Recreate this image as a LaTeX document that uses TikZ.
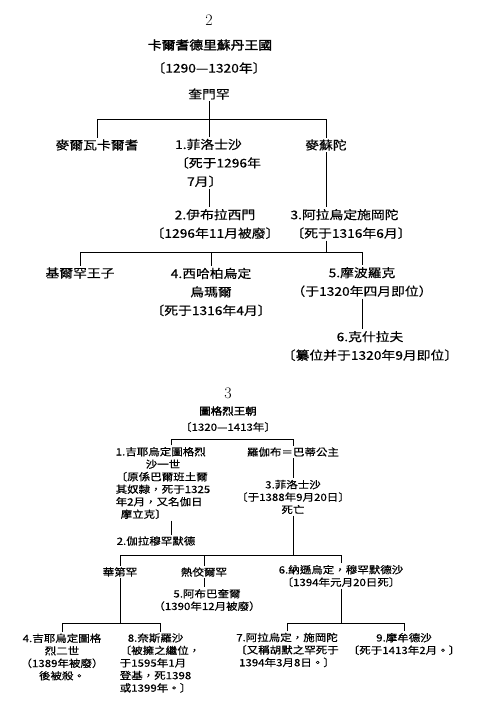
\documentclass[tikz,border=0pt]{standalone}
\usepackage{fontspec}
\newfontfamily\cjk[FakeStretch=1.15,FakeBold=0.4]{Noto Sans CJK TC}
\newfontfamily\cjkhead[FakeStretch=1.15,FakeBold=2]{Noto Sans CJK TC}
\usetikzlibrary{calc}

\tikzset{
  tree/.style={line width=0.7pt},
  num/.style={font=\fontsize{16}{16}\selectfont, inner sep=1pt},
  headA/.style={font=\cjkhead\fontsize{12}{14}\selectfont, inner sep=1pt},
  headB/.style={font=\cjkhead\fontsize{10}{12}\selectfont, inner sep=1pt},
  kinA/.style={font=\cjk\fontsize{12}{18.5}\selectfont, align=center, inner sep=1.5pt},
  kinB/.style={font=\cjk\fontsize{10}{12.5}\selectfont, align=center, inner sep=1.5pt},
}

\begin{document}
\begin{tikzpicture}[x=1pt, y=-1pt]
\useasboundingbox (0,0) rectangle (490,716);

% --- 2: Khalji ---
\node[num] (n2) at (209,20) {2};
\node[headA] (t2) at (210,45) {卡爾耆德里蘇丹王國};
\node[kinA] (y2) at (209,68) {〔1290—1320年〕};
\node[kinA] (r2) at (209,94) {奎門罕};
\coordinate (b2) at (209,119);

\node[kinA] (mk) at (97,145) {麥爾瓦卡爾耆};
\node[kinA, align=left] (f1) at (218,163) {1.菲洛士沙\\〔死于1296年\\\hspace*{1em}7月〕};
\node[kinA] (ms) at (326,145) {麥蘇陀};
\node[kinA] (ib) at (215,224) {2.伊布拉西門\\〔1296年11月被廢〕};
\node[kinA, align=left] (al) at (351,224) {3.阿拉烏定施岡陀\\〔死于1316年6月〕};
\coordinate (b3) at (326,252);

\node[kinA] (kh) at (80,273) {基爾罕王子};
\node[kinA] (sh) at (211,292) {4.西哈柏烏定\\烏瑪爾\\〔死于1316年4月〕};
\node[kinA] (mb) at (362,282) {5.摩波羅克\\（于1320年四月即位）};
\node[kinA] (ks) at (370,346) {6.克什拉夫\\〔纂位并于1320年9月即位〕};

\draw[tree] (r2.south) -- (b2);
\draw[tree] (mk.north) -- (mk.north |- b2) -| (ms.north);
\draw[tree] (f1.north -| b2) -- (b2);
\draw[tree] (f1.south -| b2) -- (ib.north -| b2);
\draw[tree] (ms.south) -- (ms.south |- al.north);
\draw[tree] (al.south -| b3) -- (b3);
\draw[tree] (kh.north) -- (kh.north |- b3) -| (mb.north);
\draw[tree] (sh.north) -- (sh.north |- b3);
\draw[tree] (mb.south) -- (mb.south |- ks.north);

% --- 3: Tughluq ---
\node[num] (n3) at (228,393) {3};
\node[headB] (t3) at (228,411) {圖格烈王朝};
\node[kinB] (y3) at (228,427) {〔1320—1413年〕};
\coordinate (b4) at (171,439);

\node[kinB, align=left] (gt) at (163,483) {1.吉耶烏定圖格烈\\\hspace*{3em}沙一世\\〔原係巴爾班土爾\\其奴隸，死于1325\\年2月，又名伽日\\\hspace*{0.5em}摩立克〕};
\node[kinB] (rj) at (293,452) {羅伽布＝巴蒂公主};
\node[kinB] (fs) at (293,497) {3.菲洛士沙\\〔于1388年9月20日〕\\死亡};
\node[kinB] (mh) at (156,541) {2.伽拉穆罕默德};
\coordinate (b5) at (293,555);

\draw[tree] (gt.north -| b4) -- (b4) -| (rj.north);
\draw[tree] (gt.south -| b4) -- (mh.north -| b4);
\draw[tree] (rj.south) -- (fs.north);
\draw[tree] (fs.south) -- (b5);

\node[kinB] (ft) at (120,572) {華第罕};
\node[kinB] (zf) at (204,572) {熱佼爾罕};
\node[kinB] (ns) at (341,576) {6.納遜烏定，穆罕默德沙\\〔1394年元月20日死〕};
\node[kinB] (ab) at (207,600) {5.阿布巴奎爾\\（1390年12月被廢）};
\coordinate (b6) at (120,623);
\coordinate (b7) at (341,623);

\draw[tree] (ft.north) -- (ft.north |- b5) -| (ns.north);
\draw[tree] (zf.north) -- (zf.north |- b5);
\draw[tree] (zf.south) -- (zf.south |- ab.north);
\draw[tree] (ft.south) -- (b6);
\draw[tree] (ns.south) -- (b7);

\node[kinB] (gu) at (62,657) {4.吉耶烏定圖格\\烈二世\\（1389年被廢）\\後被殺。};
\node[kinB, align=left] (nr) at (160,663) {\hspace*{0.8em}8.奈斯羅沙\\〔被擁之繼位，\\于1595年1月\\登基，死1398\\或1399年。〕};
\node[kinB] (sk) at (287,650) {7.阿拉烏定，施岡陀\\〔又稱胡默之罕死于\\1394年3月8日。〕};
\node[kinB] (md) at (404,644) {9.摩牟德沙\\〔死于1413年2月。〕};

\draw[tree] (gu.north) -- (gu.north |- b6) -| (nr.north);
\draw[tree] (sk.north) -- (sk.north |- b7) -| (md.north);
\end{tikzpicture}
\end{document}
